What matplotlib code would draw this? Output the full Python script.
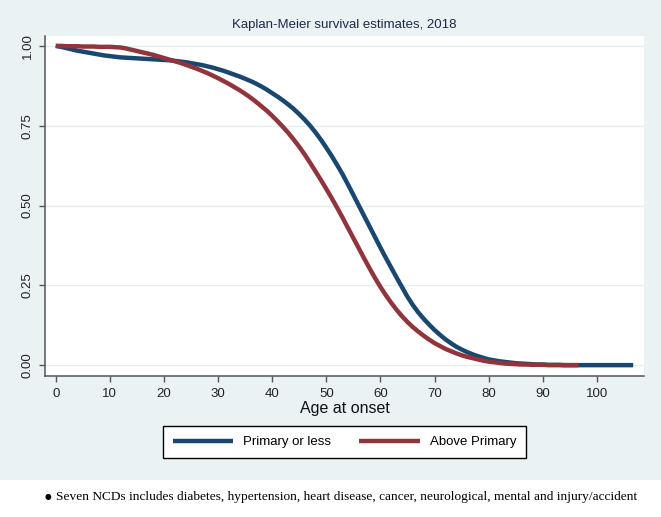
import matplotlib
matplotlib.use('Agg')
import matplotlib.pyplot as plt
import numpy as np
from matplotlib.patches import Rectangle

# ---------------- data ----------------
title = "Kaplan-Meier survival estimates, 2018"
x_label = "Age at onset"
series_names = ["Primary or less", "Above Primary"]
footnote = ("Seven NCDs includes diabetes, hypertension, heart disease, cancer, "
            "neurological, mental and injury/accident")

# survival estimate at each completed year of age (0, 1, 2, ...)
primary_surv = [
    1.000, 0.997, 0.993, 0.989, 0.985, 0.982, 0.979, 0.976, 0.973, 0.970,
    0.968, 0.966, 0.964, 0.963, 0.962, 0.961, 0.960, 0.959, 0.958, 0.957,
    0.956, 0.955, 0.953, 0.951, 0.949, 0.946, 0.943, 0.940, 0.936, 0.932,
    0.927, 0.922, 0.916, 0.910, 0.904, 0.897, 0.890, 0.882, 0.873, 0.863,
    0.852, 0.841, 0.829, 0.816, 0.802, 0.786, 0.769, 0.750, 0.729, 0.706,
    0.681, 0.655, 0.627, 0.598, 0.566, 0.533, 0.500, 0.467, 0.434, 0.401,
    0.368, 0.336, 0.305, 0.274, 0.244, 0.214, 0.188, 0.165, 0.145, 0.127,
    0.110, 0.095, 0.081, 0.069, 0.058, 0.049, 0.041, 0.034, 0.028, 0.023,
    0.018, 0.015, 0.012, 0.010, 0.008, 0.006, 0.005, 0.004, 0.003, 0.002,
    0.002, 0.001, 0.001, 0.001, 0.000, 0.000, 0.000, 0.000, 0.000, 0.000,
    0.000, 0.000, 0.000, 0.000, 0.000, 0.000, 0.000,
]
primary_last_age = 106.7

above_surv = [
    1.000, 1.000, 0.999, 0.999, 0.999, 0.998, 0.998, 0.998, 0.997, 0.997,
    0.997, 0.996, 0.995, 0.992, 0.988, 0.984, 0.980, 0.976, 0.972, 0.967,
    0.962, 0.957, 0.952, 0.947, 0.941, 0.935, 0.929, 0.922, 0.915, 0.907,
    0.899, 0.890, 0.881, 0.871, 0.861, 0.850, 0.838, 0.825, 0.811, 0.797,
    0.781, 0.764, 0.746, 0.727, 0.706, 0.684, 0.660, 0.634, 0.607, 0.580,
    0.552, 0.523, 0.493, 0.462, 0.430, 0.398, 0.366, 0.334, 0.303, 0.273,
    0.245, 0.219, 0.195, 0.173, 0.153, 0.135, 0.119, 0.105, 0.092, 0.080,
    0.069, 0.060, 0.051, 0.044, 0.037, 0.031, 0.026, 0.022, 0.018, 0.014,
    0.011, 0.009, 0.007, 0.005, 0.004, 0.003, 0.002, 0.002, 0.001, 0.001,
    0.001, 0.000, 0.000, 0.000, 0.000, 0.000, 0.000,
]
above_last_age = 96.6

x_ticks = [0, 10, 20, 30, 40, 50, 60, 70, 80, 90, 100]
y_ticks = [0.00, 0.25, 0.50, 0.75, 1.00]
y_tick_labels = ["0.00", "0.25", "0.50", "0.75", "1.00"]

# ---------------- style ----------------
W, H = 661, 517
BLUE = "#1A476F"
RED = "#90353B"
BG = "#EAF2F3"
AXC = "#555555"
SANS = ["Liberation Sans", "DejaVu Sans"]
SERIF = ["Liberation Serif", "DejaVu Serif"]
plt.rcParams['font.family'] = SANS

fig = plt.figure(figsize=(W / 100, H / 100), dpi=100, facecolor="white")
bg = Rectangle((0, (H - 480) / H), 1, 480 / H, transform=fig.transFigure,
               facecolor=BG, edgecolor="none", zorder=-10)
fig.patches.append(bg)

ax = fig.add_axes([45 / W, (H - 376) / H, 599 / W, 340 / H])
ax.set_zorder(1)
ax.set_facecolor("white")


def km_xy(surv, last_age):
    ages = np.arange(len(surv), dtype=float)
    xs = np.append(ages, last_age)
    ys = np.append(np.asarray(surv, dtype=float), surv[-1])
    return xs, ys


xb, yb = km_xy(primary_surv, primary_last_age)
xr, yr = km_xy(above_surv, above_last_age)
l1, = ax.plot(xb, yb, color=BLUE, lw=3.2, zorder=3,
              solid_joinstyle="round", solid_capstyle="butt")
l2, = ax.plot(xr, yr, color=RED, lw=3.2, zorder=4,
              solid_joinstyle="round", solid_capstyle="butt")

ax.set_xlim(-1.98, 108.7)
ax.set_ylim(-0.034, 1.031)
ax.set_xticks(x_ticks)
ax.set_yticks(y_ticks)
ax.set_yticklabels(y_tick_labels, rotation=90, va="center")
ax.tick_params(direction="out", length=4.3, width=1.0, color=AXC,
               labelsize=9.5, pad=4, labelcolor="#222222")
for s in ["top", "right"]:
    ax.spines[s].set_visible(False)
for s in ["left", "bottom"]:
    ax.spines[s].set_color(AXC)
    ax.spines[s].set_linewidth(1.1)
ax.yaxis.grid(True, color="#E3ECEE", lw=0.9)
ax.set_axisbelow(True)

fig.text(344.5 / W, 1 - 25 / H, title, ha="center", va="center",
         fontsize=9.5, color="#1C2A48")
fig.text(344.5 / W, 1 - 408 / H, x_label, ha="center", va="center",
         fontsize=11.5, color="#111111")

leg = fig.legend([l1, l2], series_names, loc="center",
                 bbox_to_anchor=(344.5 / W, 1 - 442 / H), ncol=2, fontsize=9.5,
                 frameon=True, fancybox=False, edgecolor="black", framealpha=1,
                 handlelength=4.6, handletextpad=0.76, columnspacing=2.1,
                 borderpad=0.75)
leg.get_frame().set_linewidth(1.0)

fig.text(48 / W, 1 - 496 / H, "\u25CF", ha="center", va="center",
         fontsize=5.5, family=["DejaVu Sans"], color="black")
fig.text(56 / W, 1 - 497 / H, footnote, ha="left", va="center",
         fontsize=9.6, family=SERIF, color="black")

fig.savefig("out.png", dpi=100, facecolor="white")
